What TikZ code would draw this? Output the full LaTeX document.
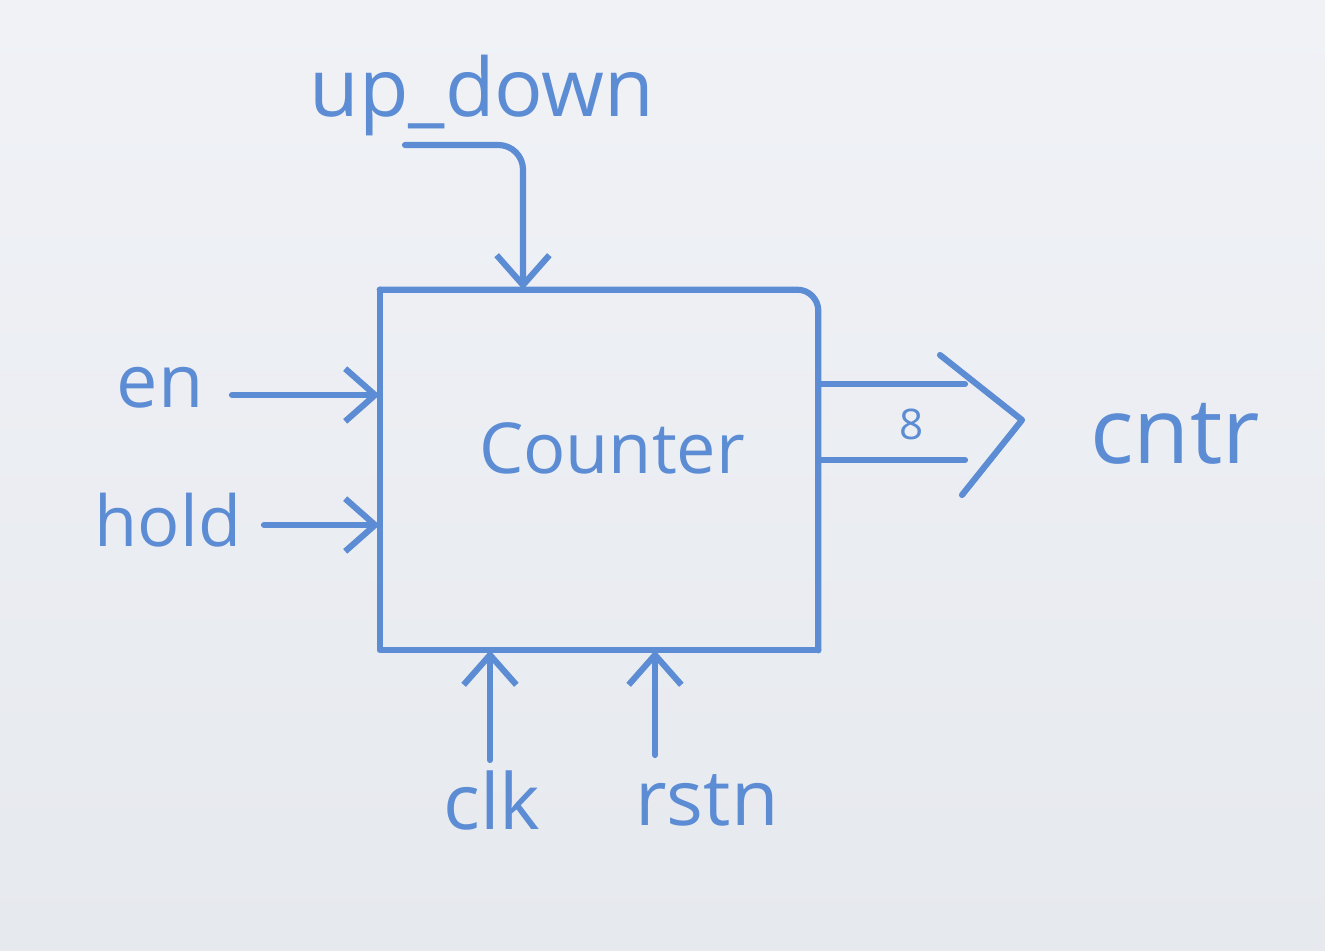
\documentclass[tikz,border=0pt]{standalone}
\usepackage{fontspec}
\setmainfont{Open Sans}
\usetikzlibrary{arrows.meta}
\definecolor{marker}{RGB}{92,140,212}
\definecolor{boardtop}{RGB}{240,242,246}
\definecolor{boardbot}{RGB}{230,233,238}
\begin{document}
\begin{tikzpicture}[x=0.02cm,y=-0.02cm,
  sig/.style={line width=3.5pt, line cap=round, line join=round, draw=marker},
  tip/.style={-{Straight Barb[length=17pt,width=30pt]}},
  lbl/.style={text=marker, font=\fontsize{44}{48}\selectfont, inner sep=0pt},
  blk/.style={inner sep=0pt, minimum width=8.76cm, minimum height=7.2cm}]
\shade[top color=boardtop, bottom color=boardbot] (0,0) rectangle (1325,950);
\useasboundingbox (0,0) rectangle (1325,950);

% block
\node[blk] (ctr) at (599,470) {};
\draw[sig, rounded corners=12pt] (ctr.north west) -- (ctr.north east) -- (ctr.south east);
\draw[sig] (ctr.south east) -- (ctr.south west) -- (ctr.north west);
\node[lbl, font=\fontsize{40}{44}\selectfont] (title) at (612,448) {Counter};

% labels
\node[lbl, font=\fontsize{46}{50}\selectfont] (ud) at (482,96) {up\_down};
\node[lbl, font=\fontsize{42}{46}\selectfont] (en) at (160,388) {en};
\node[lbl, font=\fontsize{40}{44}\selectfont] (hold) at (168,520) {hold};
\node[lbl] (clk) at (492,800) {clk};
\node[lbl] (rstn) at (707,800) {rstn};
\node[lbl, font=\fontsize{52}{56}\selectfont] (cntr) at (1175,434) {cntr};
\node[lbl, font=\fontsize{24}{28}\selectfont] (w) at (912,424) {8};

% up_down input
\coordinate (udstart) at (405,145);
\coordinate (udx) at (523,0);
\draw[sig, tip, rounded corners=14pt] (udstart) -| (udx |- ctr.north);

% side inputs
\coordinate (enstart) at (232,395);
\draw[sig, tip] (enstart) -- (enstart -| ctr.west);
\coordinate (holdstart) at (264,525);
\draw[sig, tip] (holdstart) -- (holdstart -| ctr.west);

% bottom inputs
\coordinate (clkstart) at (490,760);
\draw[sig, tip] (clkstart) -- (clkstart |- ctr.south);
\coordinate (rststart) at (655,755);
\draw[sig, tip] (rststart) -- (rststart |- ctr.south);

% output bus
\coordinate (b1) at (965,384);
\coordinate (b2) at (965,460);
\draw[sig] (b1 -| ctr.east) -- (b1);
\draw[sig] (b2 -| ctr.east) -- (b2);
\coordinate (chA) at (940,355);
\coordinate (chB) at (1022,420);
\coordinate (chC) at (962,495);
\draw[sig] (chA) -- (chB) -- (chC);
\end{tikzpicture}
\end{document}
